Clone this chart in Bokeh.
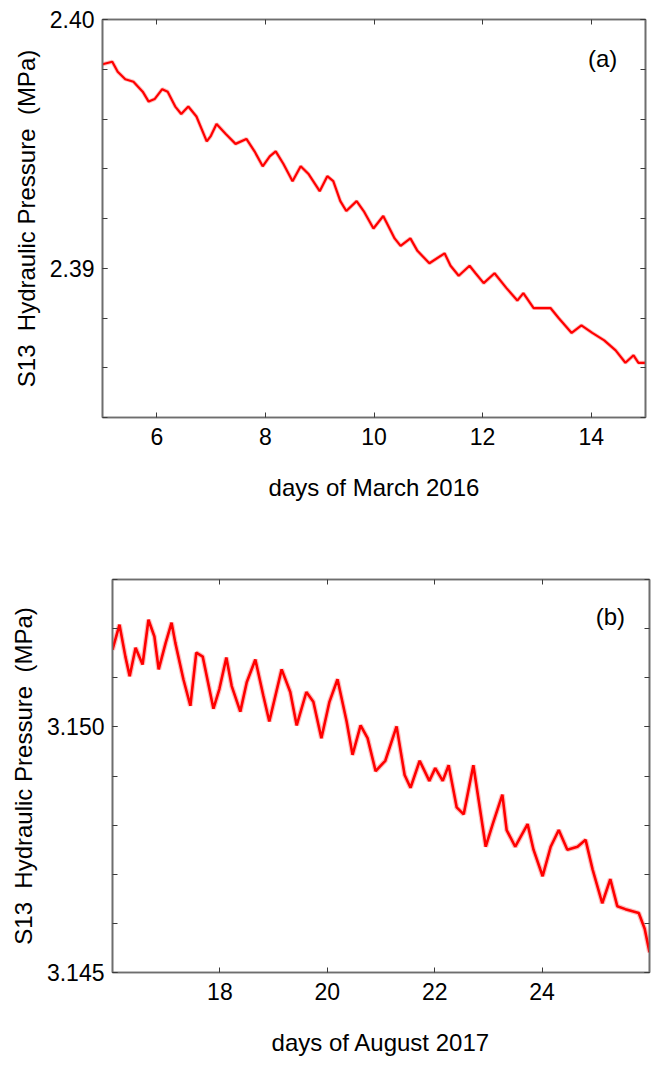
from bokeh.plotting import figure
from bokeh.models import (Range1d, FixedTicker, LinearAxis, Label,
                          PrintfTickFormatter, CustomJSTickFormatter)
from bokeh.embed import file_html
from bokeh.resources import INLINE

# ---------------- data ----------------
days_a = [5.00, 5.18, 5.28, 5.42, 5.57, 5.74, 5.85, 5.96, 6.10, 6.20,
          6.34, 6.45, 6.58, 6.73, 6.92, 6.99, 7.10, 7.27, 7.45, 7.65,
          7.80, 7.95, 8.08, 8.19, 8.33, 8.50, 8.65, 8.79, 9.00, 9.14,
          9.25, 9.38, 9.49, 9.68, 9.81, 9.99, 10.17, 10.38, 10.49, 10.67,
          10.80, 11.02, 11.30, 11.41, 11.56, 11.76, 11.87, 12.02, 12.22, 12.44,
          12.64, 12.75, 12.94, 13.25, 13.40, 13.64, 13.82, 14.02, 14.24, 14.45,
          14.63, 14.78, 14.87, 15.00]
press_a = [2.3982, 2.3983, 2.3979, 2.3976, 2.3975, 2.3971, 2.3967, 2.3968, 2.3972, 2.3971,
           2.3965, 2.3962, 2.3965, 2.3961, 2.3951, 2.3953, 2.3958, 2.3954, 2.3950, 2.3952,
           2.3947, 2.3941, 2.3945, 2.3947, 2.3942, 2.3935, 2.3941, 2.3938, 2.3931, 2.3937,
           2.3935, 2.3927, 2.3923, 2.3927, 2.3923, 2.3916, 2.3921, 2.3912, 2.3909, 2.3912,
           2.3907, 2.3902, 2.3906, 2.3901, 2.3897, 2.3901, 2.3898, 2.3894, 2.3898, 2.3892,
           2.3887, 2.3890, 2.3884, 2.3884, 2.3880, 2.3874, 2.3877, 2.3874, 2.3871, 2.3867,
           2.3862, 2.3865, 2.3862, 2.3862]

days_b = [16.00, 16.13, 16.24, 16.32, 16.43, 16.56, 16.67, 16.78, 16.86, 16.99,
          17.10, 17.17, 17.32, 17.45, 17.56, 17.68, 17.88, 17.99, 18.12, 18.22,
          18.38, 18.50, 18.66, 18.81, 18.92, 19.15, 19.31, 19.43, 19.61, 19.74,
          19.89, 20.04, 20.19, 20.36, 20.47, 20.62, 20.75, 20.90, 21.08, 21.29,
          21.44, 21.55, 21.72, 21.90, 22.01, 22.15, 22.26, 22.41, 22.54, 22.72,
          22.95, 23.08, 23.26, 23.34, 23.50, 23.73, 23.84, 24.01, 24.16, 24.31,
          24.47, 24.66, 24.81, 24.94, 25.12, 25.27, 25.40, 25.55, 25.80, 25.91,
          26.00]
press_b = [3.15157, 3.15208, 3.15143, 3.15103, 3.15161, 3.15127, 3.15218, 3.15184, 3.15117, 3.15171,
           3.15212, 3.15171, 3.15097, 3.15043, 3.15151, 3.15143, 3.15037, 3.15077, 3.15141, 3.15083,
           3.15031, 3.15091, 3.15137, 3.15063, 3.15011, 3.15117, 3.15071, 3.15003, 3.15071, 3.15051,
           3.14977, 3.15051, 3.15097, 3.15011, 3.14943, 3.15003, 3.14977, 3.14910, 3.14931, 3.15001,
           3.14902, 3.14876, 3.14931, 3.14890, 3.14916, 3.14890, 3.14922, 3.14836, 3.14822, 3.14922,
           3.14756, 3.14802, 3.14862, 3.14790, 3.14756, 3.14802, 3.14750, 3.14696, 3.14756, 3.14790,
           3.14750, 3.14756, 3.14770, 3.14710, 3.14641, 3.14690, 3.14635, 3.14629, 3.14621, 3.14589,
           3.14541]

xticks_a = [6, 8, 10, 12, 14]
yticks_a = [2.39, 2.40]
yminor_a = [2.384, 2.386, 2.388, 2.390, 2.392, 2.394, 2.396, 2.398, 2.400]
xticks_b = [18, 20, 22, 24]
yticks_b = [3.145, 3.150]
yminor_b = [3.145, 3.146, 3.147, 3.148, 3.149, 3.150, 3.151, 3.152, 3.153]

YLABEL = "S13 \u00a0Hydraulic Pressure \u00a0(MPa)"

FONT = "'Liberation Sans', Arial, Helvetica, sans-serif"
AXIS_COL = "#6e6e6e"
TICK_COL = "#3a3a3a"
TICK_FS = "23px"
LABEL_FS = "24px"


def style_axis(ax, show_labels):
    ax.axis_line_color = AXIS_COL
    ax.axis_line_width = 1.6
    ax.major_tick_in = 5
    ax.major_tick_out = 0
    ax.minor_tick_in = 5
    ax.minor_tick_out = 0
    ax.major_tick_line_color = TICK_COL
    ax.minor_tick_line_color = TICK_COL
    ax.major_tick_line_width = 1
    ax.minor_tick_line_width = 1
    ax.major_label_text_font = FONT
    ax.major_label_text_font_size = TICK_FS
    ax.major_label_text_color = "black"
    ax.axis_label_text_font = FONT
    ax.axis_label_text_font_size = LABEL_FS
    ax.axis_label_text_font_style = "normal"
    ax.axis_label_text_color = "black"
    if not show_labels:
        ax.formatter = CustomJSTickFormatter(code="return ''")
        ax.major_label_standoff = 0
        ax.major_label_text_font_size = "0px"


def panel(days, press, xr, yr, xticks, yticks, yminor, yfmt, xlabel, tag, tag_x, tag_y,
          width, height, b_left, b_right, b_top, b_bottom, core_w, halo_w):
    p = figure(output_backend="svg", toolbar_location=None,
               width=width, height=height,
               x_range=Range1d(*xr), y_range=Range1d(*yr),
               min_border_left=b_left, min_border_right=b_right,
               min_border_top=b_top, min_border_bottom=b_bottom)
    p.xgrid.visible = False
    p.ygrid.visible = False
    p.outline_line_color = AXIS_COL
    p.outline_line_width = 1.6
    p.background_fill_color = "white"
    p.border_fill_color = "white"

    p.xaxis.ticker = FixedTicker(ticks=xticks, minor_ticks=[])
    p.yaxis.ticker = FixedTicker(ticks=yticks, minor_ticks=yminor)
    p.yaxis.formatter = PrintfTickFormatter(format=yfmt)
    p.xaxis.axis_label = xlabel
    p.yaxis.axis_label = YLABEL
    style_axis(p.xaxis[0], True)
    style_axis(p.yaxis[0], True)
    p.xaxis.major_label_standoff = 10
    p.xaxis.axis_label_standoff = 26
    p.yaxis.major_label_standoff = 8
    p.yaxis.axis_label_standoff = 7

    top = LinearAxis(ticker=FixedTicker(ticks=xticks, minor_ticks=[]))
    right = LinearAxis(ticker=FixedTicker(ticks=yticks, minor_ticks=yminor))
    style_axis(top, False)
    style_axis(right, False)
    p.add_layout(top, "above")
    p.add_layout(right, "right")

    p.line(days, press, line_color="#ff0000", line_width=halo_w, line_alpha=0.25)
    p.line(days, press, line_color="#ff0000", line_width=core_w)

    p.add_layout(Label(x=tag_x, y=tag_y, text=tag, text_align="center",
                       text_baseline="middle", text_font=FONT,
                       text_font_size="24px", text_color="black"))
    return p


pa = panel(days_a, press_a, (5, 15), (2.384, 2.400), xticks_a, yticks_a, yminor_a, "%.2f",
           "days of March 2016", "(a)", 14.21, 2.39845,
           width=653, height=512, b_left=102, b_right=8, b_top=19, b_bottom=95,
           core_w=2.2, halo_w=4)
pb = panel(days_b, press_b, (16, 26), (3.145, 3.153), xticks_b, yticks_b, yminor_b, "%.3f",
           "days of August 2017", "(b)", 25.27, 3.15224,
           width=653, height=546, b_left=112, b_right=4, b_top=67, b_bottom=82,
           core_w=2.6, halo_w=5)

open("out.html", "w").write(file_html([pa, pb], INLINE))
